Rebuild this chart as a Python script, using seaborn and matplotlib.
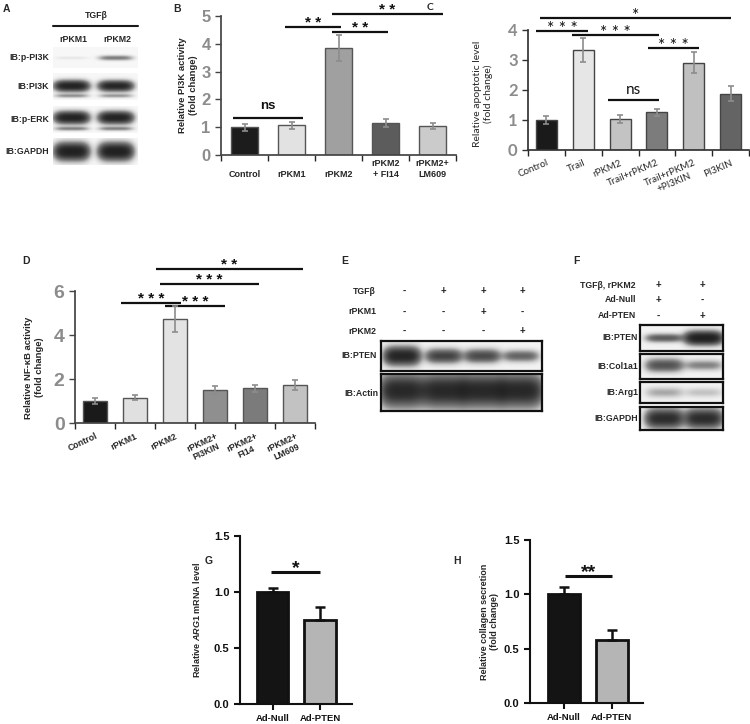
import numpy as np
import pandas as pd
import matplotlib
matplotlib.use("Agg")
import matplotlib.pyplot as plt
from matplotlib.lines import Line2D
import seaborn as sns

sns.set_theme(style="ticks")
plt.rcParams['font.family'] = ['Liberation Sans', 'DejaVu Sans']
plt.rcParams['mathtext.fontset'] = 'custom'
plt.rcParams['mathtext.rm'] = 'Liberation Sans:bold'
plt.rcParams['mathtext.it'] = 'Liberation Sans:italic:bold'

# ---------------- data ----------------
# A: western blot band strengths, lanes rPKM1 / rPKM2
a_lanes = ["rPKM1", "rPKM2"]
a_rows = ["IB:p-PI3K", "IB:PI3K", "IB:p-ERK", "IB:GAPDH"]
a_ppi3k = [0.05, 0.32]
a_pi3k = [0.95, 0.9]
a_perk = [0.95, 0.95]
a_gapdh = [1.0, 1.0]

# B: PI3K activity
b_cats = ["\nControl", "\nrPKM1", "\nrPKM2", "rPKM2\n+ FI14", "rPKM2+\nLM609"]
b_vals = [1.0, 1.07, 3.85, 1.15, 1.05]
b_errs = [0.13, 0.13, 0.47, 0.13, 0.11]
b_cols = ["#1c1c1c", "#e2e2e2", "#a0a0a0", "#5c5c5c", "#cbcbcb"]
b_sig = [(-0.245, 1.245, 1.33, "ns"), (0.86, 2.05, 4.6, "* *"),
         (1.86, 3.05, 4.42, "* *"), (1.86, 4.22, 5.07, "* *")]

# C: apoptotic level
c_cats = ["Control", "Trail", "rPKM2", "Trail+rPKM2", "Trail+rPKM2\n+PI3KIN", "PI3KIN"]
c_vals = [1.0, 3.32, 1.04, 1.26, 2.91, 1.88]
c_errs = [0.14, 0.4, 0.13, 0.11, 0.35, 0.24]
c_cols = ["#1a1a1a", "#e6e6e6", "#c3c3c3", "#7c7c7c", "#c0c0c0", "#646464"]
c_sig = [(-0.18, 5.01, 4.4, "*"), (-0.28, 1.12, 3.97, "* * *"),
         (0.69, 3.07, 3.83, "* * *"), (2.77, 4.15, 3.4, "* * *"),
         (1.66, 3.07, 1.67, "ns")]

# D: NF-kB activity
d_cats = ["Control", "rPKM1", "rPKM2", "rPKM2+\nPI3KIN", "rPKM2+\nFI14", "rPKM2+\nLM609"]
d_vals = [1.0, 1.15, 4.72, 1.5, 1.58, 1.73]
d_errs = [0.13, 0.12, 0.58, 0.17, 0.15, 0.22]
d_cols = ["#1a1a1a", "#e0e0e0", "#e3e3e3", "#8f8f8f", "#7b7b7b", "#c2c2c2"]
d_sig = [(0.65, 2.15, 5.45, "* * *"), (1.75, 3.25, 5.32, "* * *"),
         (1.62, 4.1, 6.32, "* * *"), (1.52, 5.2, 7.0, "* *")]

# E: PTEN blot
e_tgfb = ["-", "+", "+", "+"]
e_rpkm1 = ["-", "-", "+", "-"]
e_rpkm2 = ["-", "-", "-", "+"]
e_pten = [0.9, 0.6, 0.55, 0.4]
e_actin = [0.85, 0.85, 0.85, 0.85]

# F: Ad-PTEN blots
f_tgfb_rpkm2 = ["+", "+"]
f_adnull = ["+", "-"]
f_adpten = ["-", "+"]
f_pten = [0.45, 1.0]
f_col1a1 = [0.5, 0.28]
f_arg1 = [0.18, 0.12]
f_gapdh = [0.8, 0.8]

# G / H
gh_cats = ["Ad-Null", "Ad-PTEN"]
g_vals = [1.0, 0.75]
g_errs = [0.04, 0.115]
h_vals = [1.0, 0.58]
h_errs = [0.065, 0.09]
gh_cols = ["#141414", "#b5b5b5"]
g_sig = [(-0.04, 1.0, 1.18, "*")]
h_sig = [(0.02, 1.0, 1.17, "**")]

# ---------------- figure ----------------
W, H = 750, 724
fig = plt.figure(figsize=(W / 100, H / 100), dpi=100)


def box(x0, y0, x1, y1):
    return fig.add_axes([x0 / W, 1 - y1 / H, (x1 - x0) / W, (y1 - y0) / H])


def ftext(x, y, s, **kw):
    kw.setdefault('fontweight', 'bold')
    kw.setdefault('fontsize', 6.3)
    fig.text(x / W, 1 - y / H, s, **kw)


def draw_blot(ax, strengths, centers, width, yc, thick, ghost=0.0, ghost_y=0.85, bg=0.07, border=False):
    hh, ww = 80, 300
    yy, xx = np.mgrid[0:hh, 0:ww]
    xx = xx / (ww - 1)
    yy = yy / (hh - 1)
    sig = np.zeros((hh, ww))
    for cx, s in zip(centers, strengths):
        lane = np.exp(-np.abs((xx - cx) / (width / 2)) ** 4)
        band = np.exp(-((yy - yc) / (thick * (0.5 + s))) ** 2)
        sig += s * lane * band
        if ghost:
            sig += ghost * s * lane * np.exp(-((yy - ghost_y) / 0.07) ** 2)
    img = bg + (0.93 - bg) * (1 - np.exp(-3 * sig))
    ax.imshow(img, cmap="Greys", vmin=0, vmax=1, aspect="auto",
              interpolation="bilinear", extent=[0, 1, 1, 0])
    ax.set_xticks([])
    ax.set_yticks([])
    for sp in ax.spines.values():
        sp.set_visible(border)
        sp.set_color('#111111')
        sp.set_linewidth(1.6)


def bars(ax, cats, vals, errs, cols, width, edge, lw, ecolor, elw, capsize, one_sided=False):
    df = pd.DataFrame({"cat": cats, "val": vals})
    sns.barplot(data=df, x="cat", y="val", hue="cat", palette=cols, legend=False,
                width=width, edgecolor=edge, linewidth=lw, saturation=1,
                errorbar=None, ax=ax)
    x = np.arange(len(cats))
    yerr = [np.zeros(len(errs)), errs] if one_sided else errs
    ax.errorbar(x, vals, yerr=yerr, fmt='none', ecolor=ecolor, elinewidth=elw,
                capsize=capsize, capthick=elw, zorder=3)
    ax.set_xlabel("")
    sns.despine(ax=ax)


def sig_lines(ax, items, lw, fs, offs, family=None, weight='bold'):
    for x0, x1, y, lab in items:
        ax.plot([x0, x1], [y, y], color='#111111', lw=lw, clip_on=False,
                solid_capstyle='butt')
        off = offs[1] if lab == "ns" else offs[0]
        kw = dict(fontsize=fs[1] if lab == "ns" else fs[0], fontweight=weight)
        if family:
            kw['family'] = family
        ax.annotate(lab, xy=((x0 + x1) / 2, y), xytext=(0, off),
                    textcoords='offset points', ha='center', va='baseline',
                    annotation_clip=False, color='#111111', **kw)


def cat_axis(ax, cats, rot=0, pad=3, **kw):
    n = len(cats)
    ax.set_xticks(np.arange(n + 1) - 0.5)
    ax.set_xticklabels([])
    ax.set_xticks(np.arange(n), minor=True)
    if rot:
        ax.set_xticklabels(cats, minor=True, rotation=rot, ha='right',
                           rotation_mode='anchor', multialignment='center', **kw)
    else:
        ax.set_xticklabels(cats, minor=True, multialignment='center', **kw)
    ax.tick_params(axis='x', which='minor', length=0, pad=pad)
    ax.tick_params(axis='x', which='major', length=4, width=1, direction='out')
    ax.set_xlim(-0.5, n - 0.5)


# ---------- A ----------
ftext(3, 4, "A", fontsize=7.5, va='top')
ftext(96, 15, "TGFβ", ha='center', va='center')
fig.add_artist(Line2D([53 / W, 138 / W], [1 - 26 / H, 1 - 26 / H], color='k', lw=1.5))
ftext(73, 39, a_lanes[0], ha='center', va='center')
ftext(117, 39, a_lanes[1], ha='center', va='center')
a_boxes = [(47, 68), (73, 100), (106, 133), (138, 165)]
a_data = [a_ppi3k, a_pi3k, a_perk, a_gapdh]
a_style = [(0.52, 0.14, 0.0), (0.48, 0.13, 0.25), (0.45, 0.14, 0.3), (0.5, 0.2, 0.0)]
for (y0, y1), vals, (yc, th, gh), lab in zip(a_boxes, a_data, a_style, a_rows):
    ax = box(53, y0, 138, y1)
    draw_blot(ax, vals, [0.22, 0.74], 0.4, yc, th, ghost=gh, bg=0.06)
    ftext(49, (y0 + y1) / 2, lab, ha='right', va='center')

# ---------- B ----------
ftext(173, 4, "B", fontsize=7.5, va='top')
axB = box(221, 16, 456, 155)
bars(axB, b_cats, b_vals, b_errs, b_cols, 0.57, '#555555', 1.0, '#8c8c8c', 1.2, 2.5)
axB.set_ylim(0, 5)
axB.set_yticks(range(6))
cat_axis(axB, b_cats, pad=3, fontsize=6.5, fontweight='bold')
axB.tick_params(axis='y', length=4, width=1, colors='#444444', labelcolor='#8c8c8c',
                labelsize=12)
for t in axB.get_yticklabels():
    t.set_fontweight('bold')
axB.set_ylabel("Relative PI3K activity\n(fold change)", fontsize=6.8, fontweight='bold')
axB.yaxis.set_label_coords(-0.10, 0.5)
for sp in ['left', 'bottom']:
    axB.spines[sp].set_color('#444444')
sig_lines(axB, b_sig, 1.6, (11, 9.5), (0, 6.5))

# ---------- C ----------
cf = ['Lato', 'DejaVu Sans']
ftext(427, 3, "C", fontsize=7.5, va='top', family=cf)
axC = box(528, 30, 749, 150)
bars(axC, c_cats, c_vals, c_errs, c_cols, 0.57, '#444444', 1.0, '#8c8c8c', 1.2, 2.5)
axC.set_ylim(0, 4)
axC.set_yticks(range(5))
cat_axis(axC, c_cats, rot=23, pad=6, fontsize=7, family=cf)
axC.tick_params(axis='y', length=4, width=1, colors='#333333', labelcolor='#8c8c8c',
                labelsize=12)
for t in axC.get_yticklabels():
    t.set_fontweight('bold')
    t.set_family(cf)
axC.set_ylabel("Relative apoptotic level\n(fold change)", fontsize=7.5, family=cf)
axC.yaxis.set_label_coords(-0.16, 0.47)
for sp in ['left', 'bottom']:
    axC.spines[sp].set_color('#333333')
sig_lines(axC, c_sig, 1.6, (12.5, 11), (-2, 4.5), family=cf, weight='normal')

# ---------- D ----------
ftext(22, 256, "D", fontsize=7.5, va='top')
axD = box(75, 291, 315, 423)
bars(axD, d_cats, d_vals, d_errs, d_cols, 0.58, '#555555', 1.0, '#8c8c8c', 1.2, 2.5)
axD.set_ylim(0, 6)
axD.set_yticks([0, 2, 4, 6])
cat_axis(axD, d_cats, rot=25, pad=6, fontsize=6.3, fontweight='bold')
axD.tick_params(axis='y', length=4, width=1, colors='#444444', labelcolor='#8c8c8c',
                labelsize=14)
for t in axD.get_yticklabels():
    t.set_fontweight('bold')
axD.set_ylabel("Relative NF-κB activity\n(fold change)", fontsize=6.8, fontweight='bold')
axD.yaxis.set_label_coords(-0.13, 0.42)
for sp in ['left', 'bottom']:
    axD.spines[sp].set_color('#444444')
sig_lines(axD, d_sig, 1.6, (11, 9.5), (0, 6.5))

# ---------- E ----------
ftext(341, 256, "E", fontsize=7.5, va='top')
e_x = [404, 443, 483, 522]
for row, lab, y in zip([e_tgfb, e_rpkm1, e_rpkm2], ["TGFβ", "rPKM1", "rPKM2"], [291, 312, 331]):
    ftext(376, y, lab, ha='right', va='center')
    for x, s in zip(e_x, row):
        ftext(x, y, s, ha='center', va='center', fontsize=7)
e_centers = [0.13, 0.39, 0.63, 0.87]
axE1 = box(381, 341, 542, 371)
draw_blot(axE1, e_pten, e_centers, 0.22, 0.5, 0.2, bg=0.1, border=True)
ftext(377, 356, "IB:PTEN", ha='right', va='center')
axE2 = box(381, 374, 542, 411)
draw_blot(axE2, e_actin, e_centers, 0.27, 0.45, 0.3, bg=0.12, border=True)
ftext(378, 393, "IB:Actin", ha='right', va='center')

# ---------- F ----------
ftext(573, 256, "F", fontsize=7.5, va='top')
f_x = [658, 702]
for row, lab, y in zip([f_tgfb_rpkm2, f_adnull, f_adpten],
                       ["TGFβ, rPKM2", "Ad-Null", "Ad-PTEN"], [285, 300, 316]):
    ftext(636, y, lab, ha='right', va='center')
    for x, s in zip(f_x, row):
        ftext(x, y, s, ha='center', va='center', fontsize=7)
f_centers = [0.29, 0.76]
f_rows = [(325, 351, f_pten, "IB:PTEN", 0.5, 0.16),
          (354, 379, f_col1a1, "IB:Col1a1", 0.45, 0.25),
          (382, 403, f_arg1, "IB:Arg1", 0.5, 0.35),
          (407, 430, f_gapdh, "IB:GAPDH", 0.5, 0.3)]
for y0, y1, vals, lab, yc, th in f_rows:
    ax = box(640, y0, 723, y1)
    draw_blot(ax, vals, f_centers, 0.44, yc, th, bg=0.1, border=True)
    ftext(638, (y0 + y1) / 2, lab, ha='right', va='center')


# ---------- G & H ----------
def prism(ax, vals, errs, sig, ylab, xlim, labx):
    bars(ax, gh_cats, vals, errs, gh_cols, 0.66, '#111111', 2.0, '#111111', 1.8, 3.6,
         one_sided=True)
    ax.set_ylim(0, 1.5)
    ax.set_yticks([0, 0.5, 1.0, 1.5])
    ax.set_yticklabels(["0.0", "0.5", "1.0", "1.5"])
    ax.set_xticks([0, 1])
    ax.set_xticklabels(gh_cats)
    ax.set_xlim(*xlim)
    ax.tick_params(axis='both', length=4, width=1.5, colors='#111111', labelsize=8)
    ax.tick_params(axis='x', labelsize=6.8)
    for t in ax.get_yticklabels() + ax.get_xticklabels():
        t.set_fontweight('bold')
    for sp in ['left', 'bottom']:
        ax.spines[sp].set_linewidth(1.5)
        ax.spines[sp].set_color('#111111')
    ax.set_ylabel(ylab, fontsize=6.5, fontweight='bold')
    ax.yaxis.set_label_coords(labx, 0.5)
    sig_lines(ax, sig, 2.2, (14, 14), (-1, 0))


ftext(205, 556, "G", fontsize=7.5, va='top')
axG = box(240, 536, 352, 704)
prism(axG, g_vals, g_errs, g_sig, r"Relative $\mathit{ARG1}$ mRNA level", (-0.70, 1.68), -0.34)

ftext(453, 556, "H", fontsize=7.5, va='top')
axH = box(530, 540, 643, 703)
prism(axH, h_vals, h_errs, h_sig, "Relative collagen secretion\n(fold change)", (-0.71, 1.65), -0.27)

fig.savefig("out.png", dpi=100)
